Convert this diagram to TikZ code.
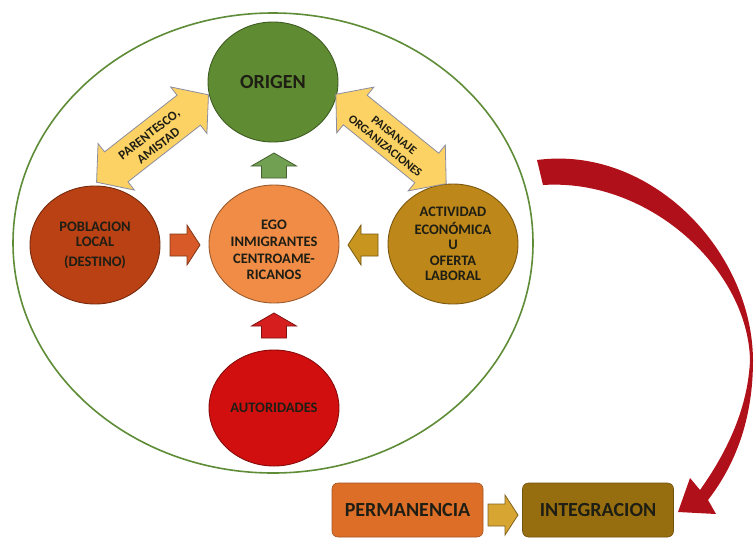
\documentclass[tikz,border=0pt]{standalone}
\usepackage{fontspec}
\setmainfont{Carlito}
\usetikzlibrary{shapes.geometric}
\definecolor{cOut}{HTML}{5F8C37}
\definecolor{cOrig}{HTML}{5F8C32}
\definecolor{cPob}{HTML}{B94114}
\definecolor{cEgo}{HTML}{F08C46}
\definecolor{cAct}{HTML}{BE8719}
\definecolor{cAut}{HTML}{D20F0F}
\definecolor{cPerm}{HTML}{DC6E28}
\definecolor{cInt}{HTML}{966E0F}
\definecolor{cYel}{HTML}{FCD264}
\definecolor{cYelLine}{HTML}{8C8CA0}
\definecolor{cRed}{HTML}{B0101A}
\definecolor{cTxt}{HTML}{1E1E14}
\definecolor{aGreen}{HTML}{72A052}
\definecolor{aOrange}{HTML}{D75A28}
\definecolor{aGold}{HTML}{C8961E}
\definecolor{aRed}{HTML}{D71E1E}
\definecolor{aBox}{HTML}{D7A532}
\begin{document}
\begin{tikzpicture}[x=1pt,y=-1pt,
  circ/.style={ellipse, draw=#1!65!black, fill=#1, line width=0.9pt,
    minimum width=130pt, minimum height=118pt, inner sep=0pt, align=center,
    text=cTxt, font=\bfseries\fontsize{14.5}{15.5}\selectfont},
  ctext/.style={align=center, inner sep=0pt, text=cTxt, font=\bfseries\fontsize{14.5}{15.5}\selectfont},
  boxn/.style={rectangle, rounded corners=6pt, draw=#1!75!black, fill=#1, line width=0.6pt,
    minimum width=151pt, minimum height=54pt, text=cTxt, font=\bfseries\fontsize{20}{22}\selectfont},
  blk/.style={fill=#1, draw=#1!60!black, line width=0.8pt, line join=miter},
  yel/.style={fill=cYel, draw=cYelLine, line width=0.8pt, line join=miter},
  ytext/.style={align=center, text=cTxt, transform shape, inner sep=0pt}
]
\useasboundingbox (0,0) rectangle (754,539);
\fill[white] (0,0) rectangle (754,539);

% outer ellipse
\node[ellipse, draw=cOut, line width=1.6pt, minimum width=520pt, minimum height=460pt, inner sep=0pt] (outer) at (273,243) {};

% circles
\node[circ=cOrig, minimum width=130pt, minimum height=120pt, font=\bfseries\fontsize{20}{22}\selectfont] (orig) at (273,82) {ORIGEN};
\node[circ=cPob] (pob) at (95,245) {POBLACION\\LOCAL\\[4pt](DESTINO)};
\node[circ=cEgo] (ego) at (274,244) {};
\node[ctext] (egot) at (274,250) {EGO\\[1pt]INMIGRANTES\\[2pt]CENTROAME-\\RICANOS};
\node[circ=cAct, minimum height=120pt] (act) at (453,244) {ACTIVIDAD\\[2pt]ECONÓMICA\\U\\OFERTA\\LABORAL};
\node[circ=cAut, minimum height=116pt] (aut) at (274,408) {AUTORIDADES};

% boxes
\node[boxn=cPerm] (perm) at (407.5,510) {PERMANENCIA};
\node[boxn=cInt] (integ) at (598,510) {INTEGRACION};

% yellow double arrows
\begin{scope}[shift={(152.5,138.5)}, rotate=38]
  \draw[yel] (-71,0) -- (-46,-29.5) -- (-46,-19) -- (46,-19) -- (46,-29.5) -- (71,0)
    -- (46,29.5) -- (46,19) -- (-46,19) -- (-46,29.5) -- cycle;
  \node[ytext, font=\bfseries\fontsize{13}{15}\selectfont] (paren) at (0,2) {PARENTESCO,\\AMISTAD};
\end{scope}
\begin{scope}[shift={(391,139)}, rotate=-39]
  \draw[yel] (-71,0) -- (-46,-29.5) -- (-46,-19) -- (46,-19) -- (46,-29.5) -- (71,0)
    -- (46,29.5) -- (46,19) -- (-46,19) -- (-46,29.5) -- cycle;
  \node[ytext, font=\bfseries\fontsize{12}{14}\selectfont] (paisa) at (0,2) {PAISANAJE\\ORGANIZACIONES};
\end{scope}

% block arrows
\draw[blk=aGreen] (274,153) -- (296.5,166) -- (286.5,166) -- (286.5,178) -- (261.5,178) -- (261.5,166) -- (251.5,166) -- cycle;
\draw[blk=aRed] (274,313) -- (296.5,326) -- (286.5,326) -- (286.5,338) -- (261.5,338) -- (261.5,326) -- (251.5,326) -- cycle;
\draw[blk=aOrange] (200,245) -- (187,265) -- (187,256) -- (170,256) -- (170,234) -- (187,234) -- (187,225) -- cycle;
\draw[blk=aGold] (348,245) -- (361,265) -- (361,256) -- (378,256) -- (378,234) -- (361,234) -- (361,225) -- cycle;
\draw[blk=aBox] (518,515) -- (505,535) -- (505,526) -- (488,526) -- (488,504) -- (505,504) -- (505,495) -- cycle;

% red curved arrow
\fill[cRed] (537,160) .. controls (650,145) and (752,250) .. (753,360)
  .. controls (753,420) and (735,465) .. (708,500) -- (716,514) -- (678,512) -- (690,478) -- (700,490)
  .. controls (725,455) and (748,410) .. (750,360)
  .. controls (748,270) and (650,178) .. (543,185) -- cycle;
\end{tikzpicture}
\end{document}
